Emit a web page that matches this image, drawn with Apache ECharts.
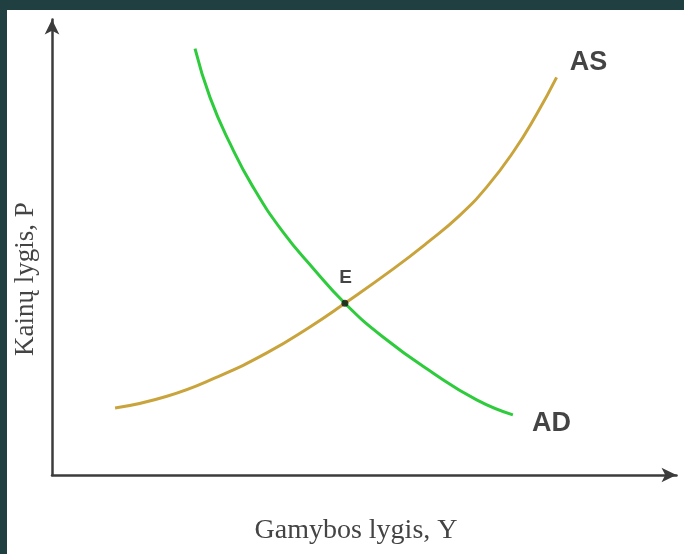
<!DOCTYPE html>
<html>
<head>
<meta charset="utf-8">
<script src="https://cdn.jsdelivr.net/npm/echarts@6/dist/echarts.min.js"></script>
<style>
html, body { margin: 0; padding: 0; background: #1f3f40; width: 684px; height: 554px; overflow: hidden; }
#chart { position: absolute; left: 7px; top: 10px; width: 677px; height: 544px; background: #fff; }
</style>
</head>
<body>
<div id="chart"></div>
<script>
// AD kreive (paklausa): [Y, P]
const adCurve = [
    [2.29, 9.36], [2.53, 8.29], [2.85, 7.28], [3.22, 6.32], [3.70, 5.33],
    [4.18, 4.54], [4.69, 3.77], [5.30, 3.03], [6.10, 2.24], [6.80, 1.65], [7.38, 1.32]
];
// AS kreive (pasiula)
const asCurve = [
    [1.01, 1.47], [1.84, 1.73], [2.64, 2.15], [3.44, 2.68], [4.13, 3.25],
    [4.69, 3.77], [5.46, 4.52], [6.00, 5.09], [6.53, 5.70], [6.96, 6.32],
    [7.38, 7.08], [7.76, 7.92], [8.08, 8.73]
];
// pusiausvyros taskas E
const equilibrium = [4.69, 3.77];
// uzrasai prie kreiviu
const curveLabels = [
    ['AS', 8.59, 9.06],
    ['AD', 8.00, 1.14]
];
const pointLabels = [['E', 4.70, 4.34]];

const chart = echarts.init(document.getElementById('chart'));

const axisCommon = {
    type: 'value',
    min: 0,
    max: 10,
    axisLine: {
        show: true,
        symbol: ['none', 'arrow'],
        symbolSize: [11, 15],
        lineStyle: { color: '#3c3c3c', width: 2.5 }
    },
    axisTick: { show: false },
    axisLabel: { show: false },
    splitLine: { show: false }
};

const labelFont = '"Liberation Sans", Arial, sans-serif';

chart.setOption({
    animation: false,
    backgroundColor: '#fff',
    grid: { left: 45, right: 7.5, top: 9.5, bottom: 79 },
    xAxis: axisCommon,
    yAxis: axisCommon,
    graphic: [
        {
            type: 'text',
            x: 349, y: 521,
            style: {
                text: 'Gamybos lygis, Y',
                font: '28px "Liberation Serif", serif',
                fill: '#444',
                align: 'center',
                verticalAlign: 'middle'
            }
        },
        {
            type: 'text',
            x: 19, y: 269,
            rotation: Math.PI / 2,
            style: {
                text: 'Kainų lygis, P',
                font: '27px "Liberation Serif", serif',
                fill: '#444',
                align: 'center',
                verticalAlign: 'middle'
            }
        }
    ],
    series: [
        {
            name: 'AS',
            type: 'line',
            data: asCurve,
            smooth: 0.5,
            symbol: 'none',
            lineStyle: { color: '#c9a43c', width: 3 },
            z: 2
        },
        {
            name: 'AD',
            type: 'line',
            data: adCurve,
            smooth: 0.5,
            symbol: 'none',
            lineStyle: { color: '#2ecb3c', width: 3 },
            z: 3
        },
        {
            name: 'E',
            type: 'scatter',
            data: [equilibrium],
            symbol: 'circle',
            symbolSize: 7,
            itemStyle: { color: '#111' },
            z: 5
        },
        {
            type: 'scatter',
            data: curveLabels.map(d => ({ value: [d[1], d[2]], name: d[0] })),
            symbolSize: 0,
            label: {
                show: true,
                position: 'inside',
                formatter: p => p.name,
                fontFamily: labelFont,
                fontWeight: 'bold',
                fontSize: 27,
                color: '#151515'
            },
            z: 6
        },
        {
            type: 'scatter',
            data: pointLabels.map(d => ({ value: [d[1], d[2]], name: d[0] })),
            symbolSize: 0,
            label: {
                show: true,
                position: 'inside',
                formatter: p => p.name,
                fontFamily: labelFont,
                fontWeight: 'bold',
                fontSize: 19,
                color: '#151515'
            },
            z: 6
        }
    ]
});
</script>
</body>
</html>
